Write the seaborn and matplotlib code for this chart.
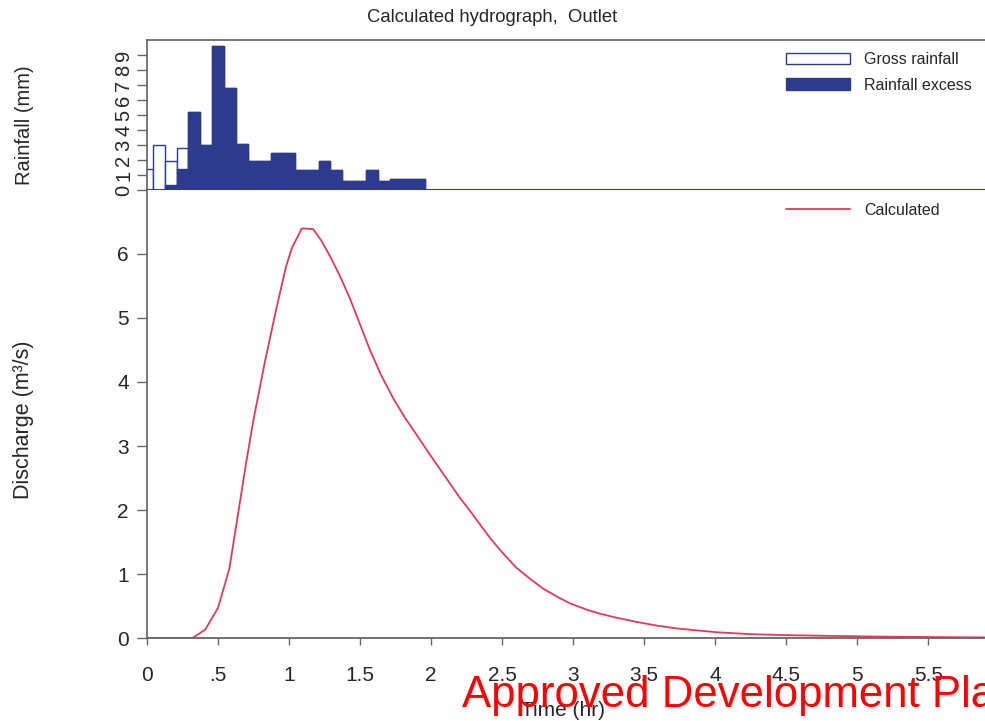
import matplotlib
matplotlib.use("Agg")
import matplotlib.pyplot as plt
from matplotlib.patches import Patch
from matplotlib.lines import Line2D
import seaborn as sns
import pandas as pd

# Rainfall hyetograph: 5-minute blocks, centred on each time step (hours)
rain_time_hr = [0.0, 0.0833, 0.1667, 0.25, 0.3333, 0.4167, 0.5, 0.5833,
                0.6667, 0.75, 0.8333, 0.9167, 1.0, 1.0833, 1.1667, 1.25,
                1.3333, 1.4167, 1.5, 1.5833, 1.6667, 1.75, 1.8333, 1.9167]
gross_rain_mm = [1.4, 3.0, 1.9, 2.8, 5.2, 3.0, 9.6, 6.8, 3.05, 1.9, 1.95, 2.45,
                 2.45, 1.35, 1.35, 1.95, 1.35, 0.6, 0.6, 1.35, 0.6, 0.7, 0.7, 0.75]
excess_rain_mm = [0.0, 0.0, 0.33, 1.43, 5.2, 3.0, 9.6, 6.8, 3.05, 1.9, 1.95, 2.45,
                  2.45, 1.35, 1.35, 1.95, 1.35, 0.6, 0.6, 1.35, 0.6, 0.7, 0.7, 0.75]

# Calculated outlet hydrograph
flow_time_hr = [0.0, 0.25, 0.32, 0.41, 0.50, 0.58, 0.63, 0.70, 0.75, 0.83, 0.91,
                0.98, 1.02, 1.09, 1.17, 1.23, 1.29, 1.36, 1.43, 1.50, 1.57, 1.65,
                1.74, 1.82, 1.90, 2.00, 2.10, 2.20, 2.28, 2.35, 2.42, 2.50, 2.60,
                2.70, 2.79, 2.90, 2.98, 3.10, 3.19, 3.30, 3.45, 3.60, 3.73, 3.87,
                4.01, 4.25, 4.50, 4.75, 5.00, 5.25, 5.50, 5.75, 5.90]
discharge_m3s = [0.0, 0.0, 0.0, 0.13, 0.47, 1.08, 1.78, 2.76, 3.41, 4.31, 5.14,
                 5.81, 6.09, 6.40, 6.39, 6.20, 5.96, 5.65, 5.30, 4.90, 4.50, 4.10,
                 3.72, 3.43, 3.17, 2.84, 2.52, 2.20, 1.97, 1.76, 1.55, 1.34, 1.10,
                 0.92, 0.77, 0.63, 0.54, 0.44, 0.38, 0.32, 0.25, 0.19, 0.15, 0.12,
                 0.09, 0.06, 0.045, 0.035, 0.027, 0.02, 0.015, 0.011, 0.009]

time_ticks = [0, 0.5, 1, 1.5, 2, 2.5, 3, 3.5, 4, 4.5, 5, 5.5]
time_tick_labels = ["0", ".5", "1", "1.5", "2", "2.5", "3", "3.5", "4", "4.5", "5", "5.5"]
rain_ticks = [0, 1, 2, 3, 4, 5, 6, 7, 8, 9]
flow_ticks = [0, 1, 2, 3, 4, 5, 6]

sns.set_theme(style="white")
plt.rcParams["font.family"] = ["Liberation Sans", "DejaVu Sans"]

NAVY = "#2c3b8e"
RED = "#e23a55"
GREY = "#666666"

rain = pd.DataFrame({"t": rain_time_hr, "gross": gross_rain_mm, "excess": excess_rain_mm})
flow = pd.DataFrame({"t": flow_time_hr, "q": discharge_m3s})

fig = plt.figure(figsize=(9.85, 7.21), dpi=100)
ax_r = fig.add_axes([0.1492, 0.7365, 0.8508, 0.2080])
ax_q = fig.add_axes([0.1492, 0.1151, 0.8508, 0.6214])

# --- rainfall panel ---
sns.barplot(data=rain, x="t", y="gross", native_scale=True, width=1.0,
            color="white", edgecolor=NAVY, linewidth=1.0, errorbar=None,
            saturation=1, ax=ax_r)
sns.barplot(data=rain, x="t", y="excess", native_scale=True, width=1.0,
            color=NAVY, edgecolor=NAVY, linewidth=1.0, errorbar=None,
            saturation=1, ax=ax_r)
ax_r.set_xlim(0, 5.9)
ax_r.set_ylim(0, 10)
ax_r.set_yticks(rain_ticks)
ax_r.set_yticklabels([str(v) for v in rain_ticks])
ax_r.set_xticks([])
ax_r.set_xlabel("")
ax_r.set_ylabel("")
ax_r.tick_params(axis="y", direction="out", length=7, width=1.0, color=GREY,
                 pad=3, labelsize=14.5, labelrotation=90, left=True)
for lab in ax_r.get_yticklabels():
    lab.set_va("center")
ax_r.spines["right"].set_visible(False)
ax_r.spines["top"].set_color(GREY)
ax_r.spines["left"].set_color(GREY)
ax_r.spines["bottom"].set_color(NAVY)
ax_r.spines["bottom"].set_linewidth(1.5)

rain_handles = [Patch(facecolor="white", edgecolor=NAVY, linewidth=1.0),
                Patch(facecolor=NAVY, edgecolor=NAVY, linewidth=1.0)]
ax_r.legend(rain_handles, ["Gross rainfall", "Rainfall excess"],
            loc="upper left", bbox_to_anchor=(786 / 985, 1 - 52 / 721),
            bbox_transform=fig.transFigure, frameon=False, fontsize=11.5,
            handlelength=4.0, handleheight=0.75, labelspacing=0.68,
            handletextpad=0.9, borderpad=0, borderaxespad=0)

# --- discharge panel ---
sns.lineplot(data=flow, x="t", y="q", color=RED, linewidth=1.3, sort=False,
             ax=ax_q)
ax_q.set_xlim(0, 5.9)
ax_q.set_ylim(0, 7)
ax_q.set_yticks(flow_ticks)
ax_q.set_yticklabels([str(v) for v in flow_ticks])
ax_q.set_xticks(time_ticks)
ax_q.set_xticklabels(time_tick_labels)
ax_q.set_xlabel("")
ax_q.set_ylabel("")
ax_q.tick_params(axis="y", direction="out", length=7, width=1.0, color=GREY,
                 pad=6, labelsize=15, left=True)
ax_q.tick_params(axis="x", direction="out", length=5, width=1.0, color=GREY,
                 pad=15, labelsize=15, bottom=True)
ax_q.spines["right"].set_visible(False)
ax_q.spines["top"].set_visible(False)
ax_q.spines["left"].set_color(GREY)
ax_q.spines["bottom"].set_color(GREY)
ax_q.spines["bottom"].set_linewidth(1.3)

ax_q.legend([Line2D([0], [0], color=RED, linewidth=1.3)], ["Calculated"],
            loc="upper left", bbox_to_anchor=(786 / 985, 1 - 203 / 721),
            bbox_transform=fig.transFigure, frameon=False, fontsize=11.5,
            handlelength=4.0, handletextpad=0.9, borderpad=0, borderaxespad=0)

# --- titles and axis labels ---
fig.text(0.5, 1 - 18 / 721, "Calculated hydrograph,  Outlet",
         ha="center", va="center", fontsize=13.3)
fig.text(25 / 985, 1 - 125 / 721, "Rainfall (mm)", rotation=90,
         ha="center", va="center", fontsize=14.5)
fig.text(24 / 985, 1 - 420 / 721, "Discharge (m\u00b3/s)", rotation=90,
         ha="center", va="center", fontsize=15.5)
fig.text(563 / 985, 1 - 711 / 721, "Time (hr)", ha="center", va="center",
         fontsize=15)
fig.text(462 / 985, 1 - 707 / 721, "Approved Development Plan", color="red",
         fontsize=31.5, ha="left", va="baseline")

fig.savefig("out.png", dpi=100)
